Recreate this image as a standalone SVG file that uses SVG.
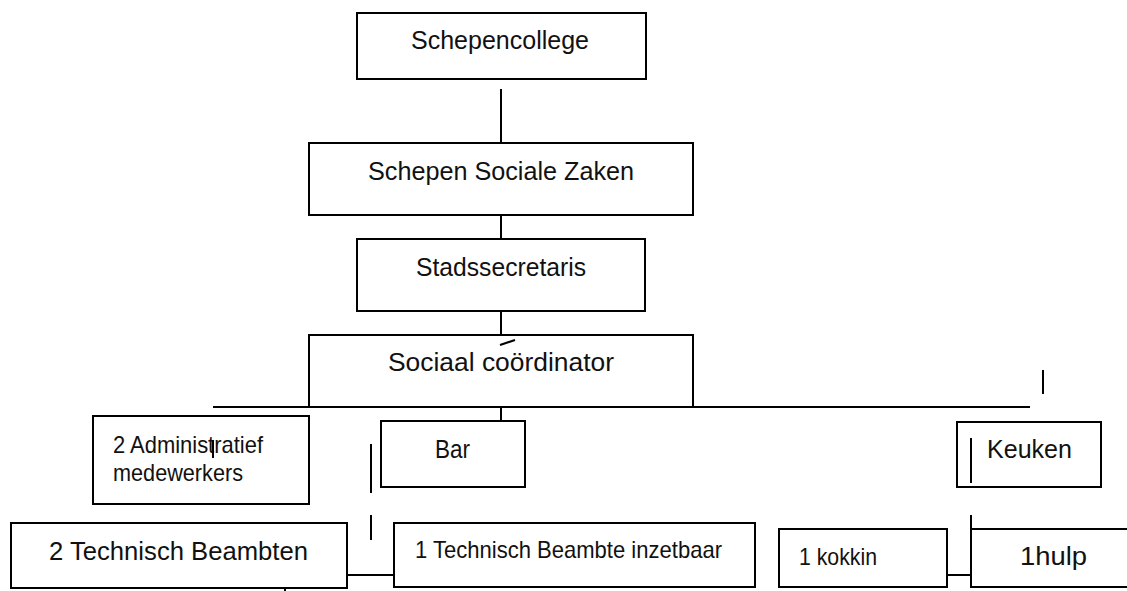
<svg xmlns="http://www.w3.org/2000/svg" width="1127" height="591" viewBox="0 0 1127 591">
<style>
.box{fill:#fff;stroke:#000;stroke-width:2}
.ln{stroke:#000;stroke-width:2;fill:none}
.t{font-family:"Liberation Sans",Arial,sans-serif;font-size:25px;fill:#111}
.n{font-family:"Liberation Sans",Arial,sans-serif;font-size:24px;fill:#111}
</style>
<rect width="1127" height="591" fill="#fff"/>
<g id="n-schepencollege">
<rect class="box" x="357" y="13" width="289" height="66"/>
<text class="t" x="411" y="49" textLength="178" lengthAdjust="spacingAndGlyphs">Schepencollege</text>
</g>
<g id="n-schepen-sociale-zaken">
<rect class="box" x="309" y="143" width="384" height="72"/>
<text class="t" x="368" y="180" textLength="266" lengthAdjust="spacingAndGlyphs">Schepen Sociale Zaken</text>
</g>
<g id="n-stadssecretaris">
<rect class="box" x="357" y="239" width="288" height="72"/>
<text class="t" x="416" y="276" textLength="170" lengthAdjust="spacingAndGlyphs">Stadssecretaris</text>
</g>
<g id="n-sociaal-coordinator">
<rect class="box" x="309" y="335" width="384" height="72"/>
<text class="t" x="388" y="371" textLength="226" lengthAdjust="spacingAndGlyphs">Sociaal coördinator</text>
</g>
<g id="n-administratief">
<rect class="box" x="93" y="416" width="216" height="88"/>
<text class="n" x="113" y="453" textLength="150" lengthAdjust="spacingAndGlyphs">2 Administratief</text>
<text class="n" x="113" y="481" textLength="130" lengthAdjust="spacingAndGlyphs">medewerkers</text>
</g>
<g id="n-bar">
<rect class="box" x="381" y="421" width="144" height="66"/>
<text class="t" x="435" y="458" textLength="35" lengthAdjust="spacingAndGlyphs">Bar</text>
</g>
<g id="n-keuken">
<rect class="box" x="957" y="422" width="144" height="65"/>
<text class="t" x="987" y="458" textLength="85" lengthAdjust="spacingAndGlyphs">Keuken</text>
</g>
<g id="n-technisch-beambten">
<rect class="box" x="11" y="523" width="336" height="65"/>
<text class="t" x="49" y="560" textLength="259" lengthAdjust="spacingAndGlyphs">2 Technisch Beambten</text>
</g>
<g id="n-technisch-beambte-inzetbaar">
<rect class="box" x="394" y="523" width="361" height="64"/>
<text class="n" x="415" y="558" textLength="307" lengthAdjust="spacingAndGlyphs">1 Technisch Beambte inzetbaar</text>
</g>
<g id="n-kokkin">
<rect class="box" x="779" y="529" width="168" height="58"/>
<text class="n" x="799" y="565" textLength="78" lengthAdjust="spacingAndGlyphs">1 kokkin</text>
</g>
<g id="n-hulp">
<rect class="box" x="971" y="529" width="170" height="58"/>
<text class="t" x="1020" y="565" textLength="67" lengthAdjust="spacingAndGlyphs">1hulp</text>
</g>
<g id="connectors">
<line class="ln" x1="501" y1="89" x2="501" y2="143"/>
<line class="ln" x1="501" y1="215" x2="501" y2="239"/>
<line class="ln" x1="501" y1="311" x2="501" y2="335"/>
<line class="ln" x1="500" y1="345" x2="515" y2="340"/>
<line class="ln" x1="213" y1="407" x2="1030" y2="407" stroke-width="2.5"/>
<line class="ln" x1="501" y1="407" x2="501" y2="421"/>
<line class="ln" x1="1043" y1="370" x2="1043" y2="394"/>
<line class="ln" x1="213" y1="440" x2="213" y2="458"/>
<line class="ln" x1="371" y1="444" x2="371" y2="493"/>
<line class="ln" x1="371" y1="515" x2="371" y2="540"/>
<line class="ln" x1="971" y1="438" x2="971" y2="483"/>
<line class="ln" x1="971" y1="515" x2="971" y2="529"/>
<line class="ln" x1="347" y1="575" x2="394" y2="575"/>
<line class="ln" x1="947" y1="575" x2="971" y2="575"/>
<line class="ln" x1="285" y1="588" x2="285" y2="591"/>
</g>
</svg>
